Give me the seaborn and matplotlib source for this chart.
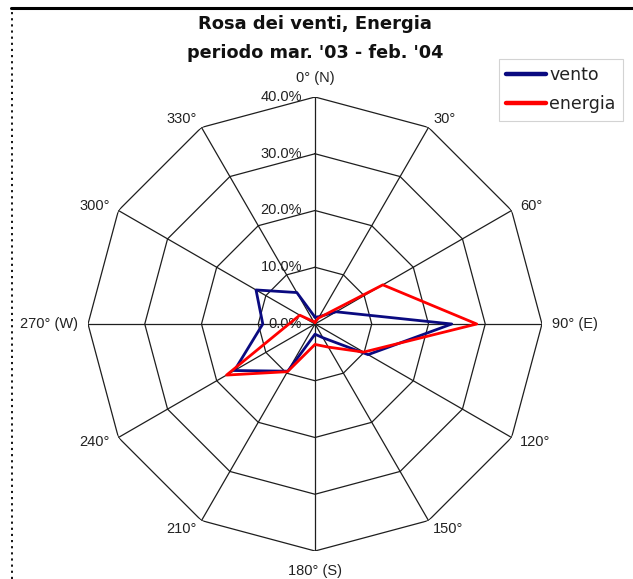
import numpy as np
import pandas as pd
import matplotlib
matplotlib.use("Agg")
import matplotlib.pyplot as plt
from matplotlib.lines import Line2D
import seaborn as sns

# ---- data ----
directions = [0, 30, 60, 90, 120, 150, 180, 210, 240, 270, 300, 330]
dir_labels = ["0° (N)", "30°", "60°", "90° (E)", "120°", "150°",
              "180° (S)", "210°", "240°", "270° (W)", "300°", "330°"]
vento = [1.2, 1.5, 4.3, 24.1, 10.8, 2.8, 1.8, 9.6, 16.4, 9.2, 12.0, 6.4]
energia = [0.3, 1.2, 13.8, 28.5, 9.9, 4.7, 3.6, 9.7, 18.0, 4.6, 3.1, 0.5]
r_ticks = [0, 10, 20, 30, 40]
series_names = ["vento", "energia"]
colors = {"vento": "#0a0a80", "energia": "#ff0000"}
title1 = "Rosa dei venti, Energia"
title2 = "periodo mar. '03 - feb. '04"

sns.set_style("white")
plt.rcParams["font.family"] = ["Liberation Sans", "DejaVu Sans"]

W, H = 633, 579
fig = plt.figure(figsize=(W / 100, H / 100), dpi=100)
cx, cy, R = 315, 324, 227
ax = fig.add_axes([(cx - R) / W, (H - cy - R) / H, 2 * R / W, 2 * R / H],
                  projection="polar")
ax.set_theta_zero_location("N")
ax.set_theta_direction(-1)
ax.set_ylim(0, r_ticks[-1])
ax.grid(False)
ax.spines["polar"].set_visible(False)
ax.set_xticks([])
ax.set_yticks([])
ax.set_facecolor("white")

theta = np.deg2rad(directions)
theta_closed = np.append(theta, theta[0] + 2 * np.pi)

# polygon grid rings and spokes
grid_c = "#1e1e1e"
for r in r_ticks[1:]:
    ax.plot(theta_closed, [r] * len(theta_closed), color=grid_c, lw=0.9, zorder=1)
for t in theta:
    ax.plot([t, t], [0, r_ticks[-1]], color=grid_c, lw=0.9, zorder=1)

# data
rows = []
for name, vals in zip(series_names, [vento, energia]):
    vals_closed = list(vals) + [vals[0]]
    for i, (t, v) in enumerate(zip(theta_closed, vals_closed)):
        rows.append({"theta": t, "val": v, "serie": name, "order": i})
df = pd.DataFrame(rows)
sns.lineplot(data=df, x="theta", y="val", hue="serie", hue_order=series_names,
             palette=colors, sort=False, estimator=None, units="serie",
             lw=2.0, ax=ax, legend=False, zorder=3)
ax.set_xlabel("")
ax.set_ylabel("")
ax.set_ylim(0, r_ticks[-1])

# direction labels
tick_fs = 10.5
tc = "#222222"
for t, d, lab in zip(theta, directions, dir_labels):
    if d == 0:
        ax.text(t, 42.1, lab, ha="center", va="bottom", fontsize=tick_fs, color=tc)
    elif d == 180:
        ax.text(t, 42.3, lab, ha="center", va="top", fontsize=tick_fs, color=tc)
    elif d < 180:
        ax.text(t, 41.7, lab, ha="left", va="center", fontsize=tick_fs, color=tc)
    else:
        ax.text(t, 41.7, lab, ha="right", va="center", fontsize=tick_fs, color=tc)

# radial labels
for r in r_ticks:
    ax.annotate(f"{r:.1f}%", xy=(0, r), xytext=(-13, 0), textcoords="offset pixels",
                ha="right", va="center", fontsize=tick_fs, color=tc, zorder=2)

# titles
fig.text(cx / W, 1 - 29 / H, title1, ha="center", va="baseline",
         fontsize=13, fontweight="bold", family="DejaVu Sans", color="#111111")
fig.text(cx / W, 1 - 58 / H, title2, ha="center", va="baseline",
         fontsize=12.7, fontweight="bold", family="DejaVu Sans", color="#111111")

# legend
handles = [Line2D([], [], color=colors[n], lw=3.2) for n in series_names]
leg = fig.legend(handles, series_names, loc="upper left",
                 bbox_to_anchor=(490 / W, 1 - 50 / H), frameon=True,
                 fancybox=False, handlelength=2.3, handletextpad=0.15,
                 borderpad=0.45, labelspacing=0.6,
                 prop={"family": "DejaVu Sans", "size": 12.5})
leg.get_frame().set_edgecolor("#c8c8c8")
leg.get_frame().set_linewidth(0.8)
for txt in leg.get_texts():
    txt.set_color("#222222")

# outer frame decorations
fig.add_artist(Line2D([11 / W, 1], [1 - 8 / H, 1 - 8 / H], color="black", lw=2.2))
fig.add_artist(Line2D([12 / W, 12 / W], [0, 1 - 10 / H], color="black", lw=1.3,
                      linestyle=(0, (1.2, 2.2))))

fig.savefig("out.png", dpi=100, facecolor="white")
